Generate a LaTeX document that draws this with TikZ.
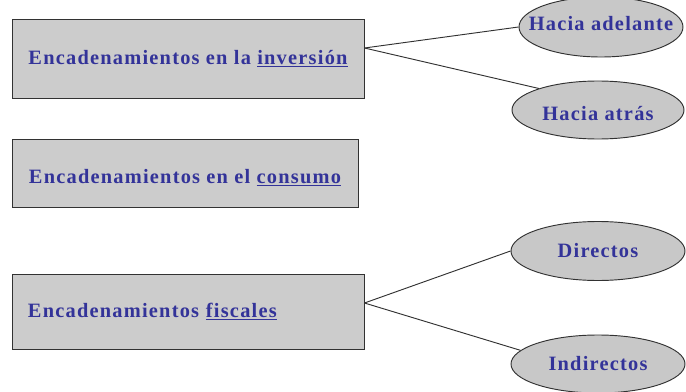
\documentclass[tikz,border=0pt]{standalone}
\usepackage{fontspec}
\newfontfamily\linkfont[LetterSpace=6]{Liberation Serif}
\definecolor{linkblue}{RGB}{51,51,153}
\definecolor{boxgray}{RGB}{204,204,204}
\definecolor{ovalgray}{RGB}{200,200,200}
\definecolor{edgegray}{RGB}{50,50,50}
\usetikzlibrary{shapes.geometric,positioning}

\begin{document}
\begin{tikzpicture}[x=0.03cm, y=-0.03cm,
    chainbox/.style={draw=edgegray, fill=boxgray, line width=0.8pt, inner xsep=0.48cm,
        font=\linkfont\bfseries\fontsize{17.4}{20}\selectfont, text=linkblue},
    chainoval/.style={draw=edgegray, fill=ovalgray, line width=0.8pt, ellipse, inner sep=0pt,
        font=\linkfont\bfseries\fontsize{17.4}{20}\selectfont, text=linkblue},
    link/.style={draw=edgegray, line width=0.8pt}]
    \useasboundingbox (0,0) rectangle (686,392);

    % Boxes
    \node[chainbox, minimum width=10.56cm, minimum height=2.37cm] (inv) at (188,58.5)
        {Encadenamientos en la \underline{inversión}};
    \node[chainbox, minimum width=10.38cm, minimum height=2.04cm] (cons) at (185,173)
        {\raisebox{-0.15cm}[\height][\depth]{Encadenamientos en el \underline{consumo}}};
    \node[chainbox, text width=9.6cm, align=left, minimum height=2.25cm] (fisc) at (188,311.5)
        {Encadenamientos \underline{fiscales}};

    % Ovals (text kept inside a zero-width box, so the oval keeps its size)
    \node[chainoval, minimum width=4.92cm, minimum height=1.8cm] (adel) at (601,27)
        {\raisebox{0.09cm}[\height][\depth]{\makebox[0pt]{Hacia adelante}}};
    \node[chainoval, minimum width=5.16cm, minimum height=1.74cm] (atras) at (598,110)
        {\raisebox{-0.12cm}[\height][\depth]{\makebox[0pt]{Hacia atrás}}};
    \node[chainoval, minimum width=5.22cm, minimum height=1.77cm] (dir) at (598,251)
        {\makebox[0pt]{Directos}};
    \node[chainoval, minimum width=5.22cm, minimum height=1.74cm] (ind) at (598,364)
        {\makebox[0pt]{Indirectos}};

    % Connections
    \draw[link] ([yshift=0.315cm]inv.east) -- (adel.west);
    \draw[link] ([yshift=0.315cm]inv.east) -- (atras.160);
    \draw[link] ([yshift=0.255cm]fisc.east) -- (dir.west);
    \draw[link] ([yshift=0.255cm]fisc.east) -- (ind.170);
\end{tikzpicture}
\end{document}
